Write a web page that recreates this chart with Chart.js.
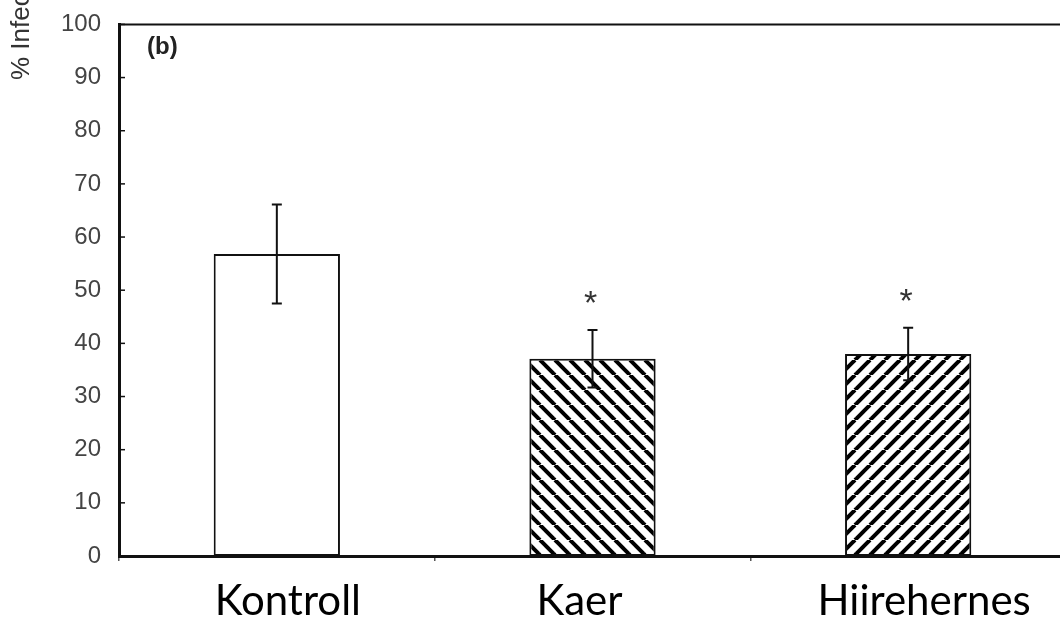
<!DOCTYPE html>
<html>
<head>
<meta charset="utf-8">
<script src="https://cdn.jsdelivr.net/npm/chart.js@4/dist/chart.umd.min.js"></script>
<style>
  html, body { margin: 0; padding: 0; background: #fff; overflow: hidden; }
  #wrap { position: relative; width: 1066px; height: 620px; }
</style>
</head>
<body>
<div id="wrap"><canvas id="chart" width="1066" height="620"></canvas></div>
<script>
const categories = ["Kontroll", "Kaer", "Hiirehernes"];
const infection = [56.8, 37.1, 38.0];
const errors = [9.3, 5.4, 4.95];
const marks = ["", "*", "*"];
const yTicks = [0, 10, 20, 30, 40, 50, 60, 70, 80, 90, 100];
const yTitle = "% Infection";
const panelLabel = "(b)";
// the category labels were pasted in by hand, slightly off centre
const labelShift = [11, -13, 16];

// hatch tile, dir 1 = "\\\", dir -1 = "///"
function hatch(dir) {
  const s = 15;
  const c = document.createElement("canvas");
  c.width = s; c.height = s;
  const g = c.getContext("2d");
  g.fillStyle = "#fff";
  g.fillRect(0, 0, s, s);
  g.strokeStyle = "#000";
  g.lineWidth = 4;
  for (let k = -1; k <= 1; k++) {
    g.beginPath();
    if (dir > 0) { g.moveTo(k * s, 0); g.lineTo(k * s + s, s); }
    else { g.moveTo(k * s, s); g.lineTo(k * s + s, 0); }
    g.stroke();
  }
  return g.createPattern(c, "repeat");
}

const extras = {
  id: "extras",
  afterDatasetsDraw(chart) {
    const ctx = chart.ctx;
    const x = chart.scales.x;
    const y = chart.scales.y;
    const area = chart.chartArea;
    const meta = chart.getDatasetMeta(0);
    ctx.save();
    // error bars + significance marks
    ctx.strokeStyle = "#111";
    ctx.lineWidth = 2;
    meta.data.forEach((bar, i) => {
      const hi = y.getPixelForValue(infection[i] + errors[i]);
      const lo = y.getPixelForValue(infection[i] - errors[i]);
      ctx.beginPath();
      ctx.moveTo(bar.x, hi); ctx.lineTo(bar.x, lo);
      ctx.moveTo(bar.x - 5, hi); ctx.lineTo(bar.x + 5, hi);
      ctx.moveTo(bar.x - 5, lo); ctx.lineTo(bar.x + 5, lo);
      ctx.stroke();
      if (marks[i]) {
        ctx.fillStyle = "#333";
        ctx.font = "34px 'Liberation Sans', Arial";
        ctx.textAlign = "center";
        ctx.textBaseline = "alphabetic";
        ctx.fillText(marks[i], bar.x - 2, hi - 16);
      }
    });
    // top frame line
    ctx.strokeStyle = "#111";
    ctx.lineWidth = 2;
    ctx.beginPath();
    ctx.moveTo(area.left, area.top);
    ctx.lineTo(chart.width, area.top);
    ctx.stroke();
    // inward y tick marks
    ctx.lineWidth = 1.5;
    yTicks.forEach(v => {
      const py = y.getPixelForValue(v);
      ctx.beginPath();
      ctx.moveTo(area.left, py);
      ctx.lineTo(area.left + 6, py);
      ctx.stroke();
    });
    // category labels
    ctx.fillStyle = "#000";
    ctx.font = "42px Lato, 'Open Sans', sans-serif";
    ctx.textAlign = "center";
    ctx.textBaseline = "alphabetic";
    categories.forEach((c, i) => {
      ctx.fillText(c, x.getPixelForValue(i) + labelShift[i], 615);
    });
    // panel label
    ctx.fillStyle = "#222";
    ctx.font = "bold 24px 'Liberation Sans', Arial";
    ctx.textAlign = "left";
    ctx.textBaseline = "middle";
    ctx.fillText(panelLabel, 147, 47);
    // y title (clipped by top of page)
    ctx.translate(22, 80);
    ctx.rotate(-Math.PI / 2);
    ctx.fillStyle = "#333";
    ctx.font = "26px 'Liberation Sans', Arial";
    ctx.textBaseline = "middle";
    ctx.fillText(yTitle, 0, 0);
    ctx.restore();
  }
};

new Chart(document.getElementById("chart"), {
  type: "bar",
  data: {
    labels: categories,
    datasets: [{
      data: infection,
      backgroundColor: ["#fff", hatch(1), hatch(-1)],
      borderColor: "#111",
      borderWidth: 2,
      borderSkipped: false,
      barPercentage: 0.4,
      categoryPercentage: 1.0
    }]
  },
  options: {
    responsive: false,
    animation: false,
    devicePixelRatio: 1,
    layout: { padding: { top: 19, bottom: 0, left: 0, right: 0 } },
    plugins: { legend: { display: false }, tooltip: { enabled: false } },
    scales: {
      x: {
        border: { display: true, color: "#111", width: 3 },
        grid: { offset: true, drawOnChartArea: false, drawTicks: true, tickLength: 5, color: "#555", lineWidth: 1.5 },
        ticks: { display: false },
        afterFit(s) { s.height = 64; }
      },
      y: {
        min: 0,
        max: 100,
        border: { display: true, color: "#111", width: 3 },
        grid: { display: false },
        ticks: {
          stepSize: 10,
          color: "#444",
          padding: 10,
          font: { family: "'Liberation Sans', Arial", size: 24 }
        },
        afterFit(s) { s.width = 119; }
      }
    }
  },
  plugins: [extras]
});
</script>
</body>
</html>
